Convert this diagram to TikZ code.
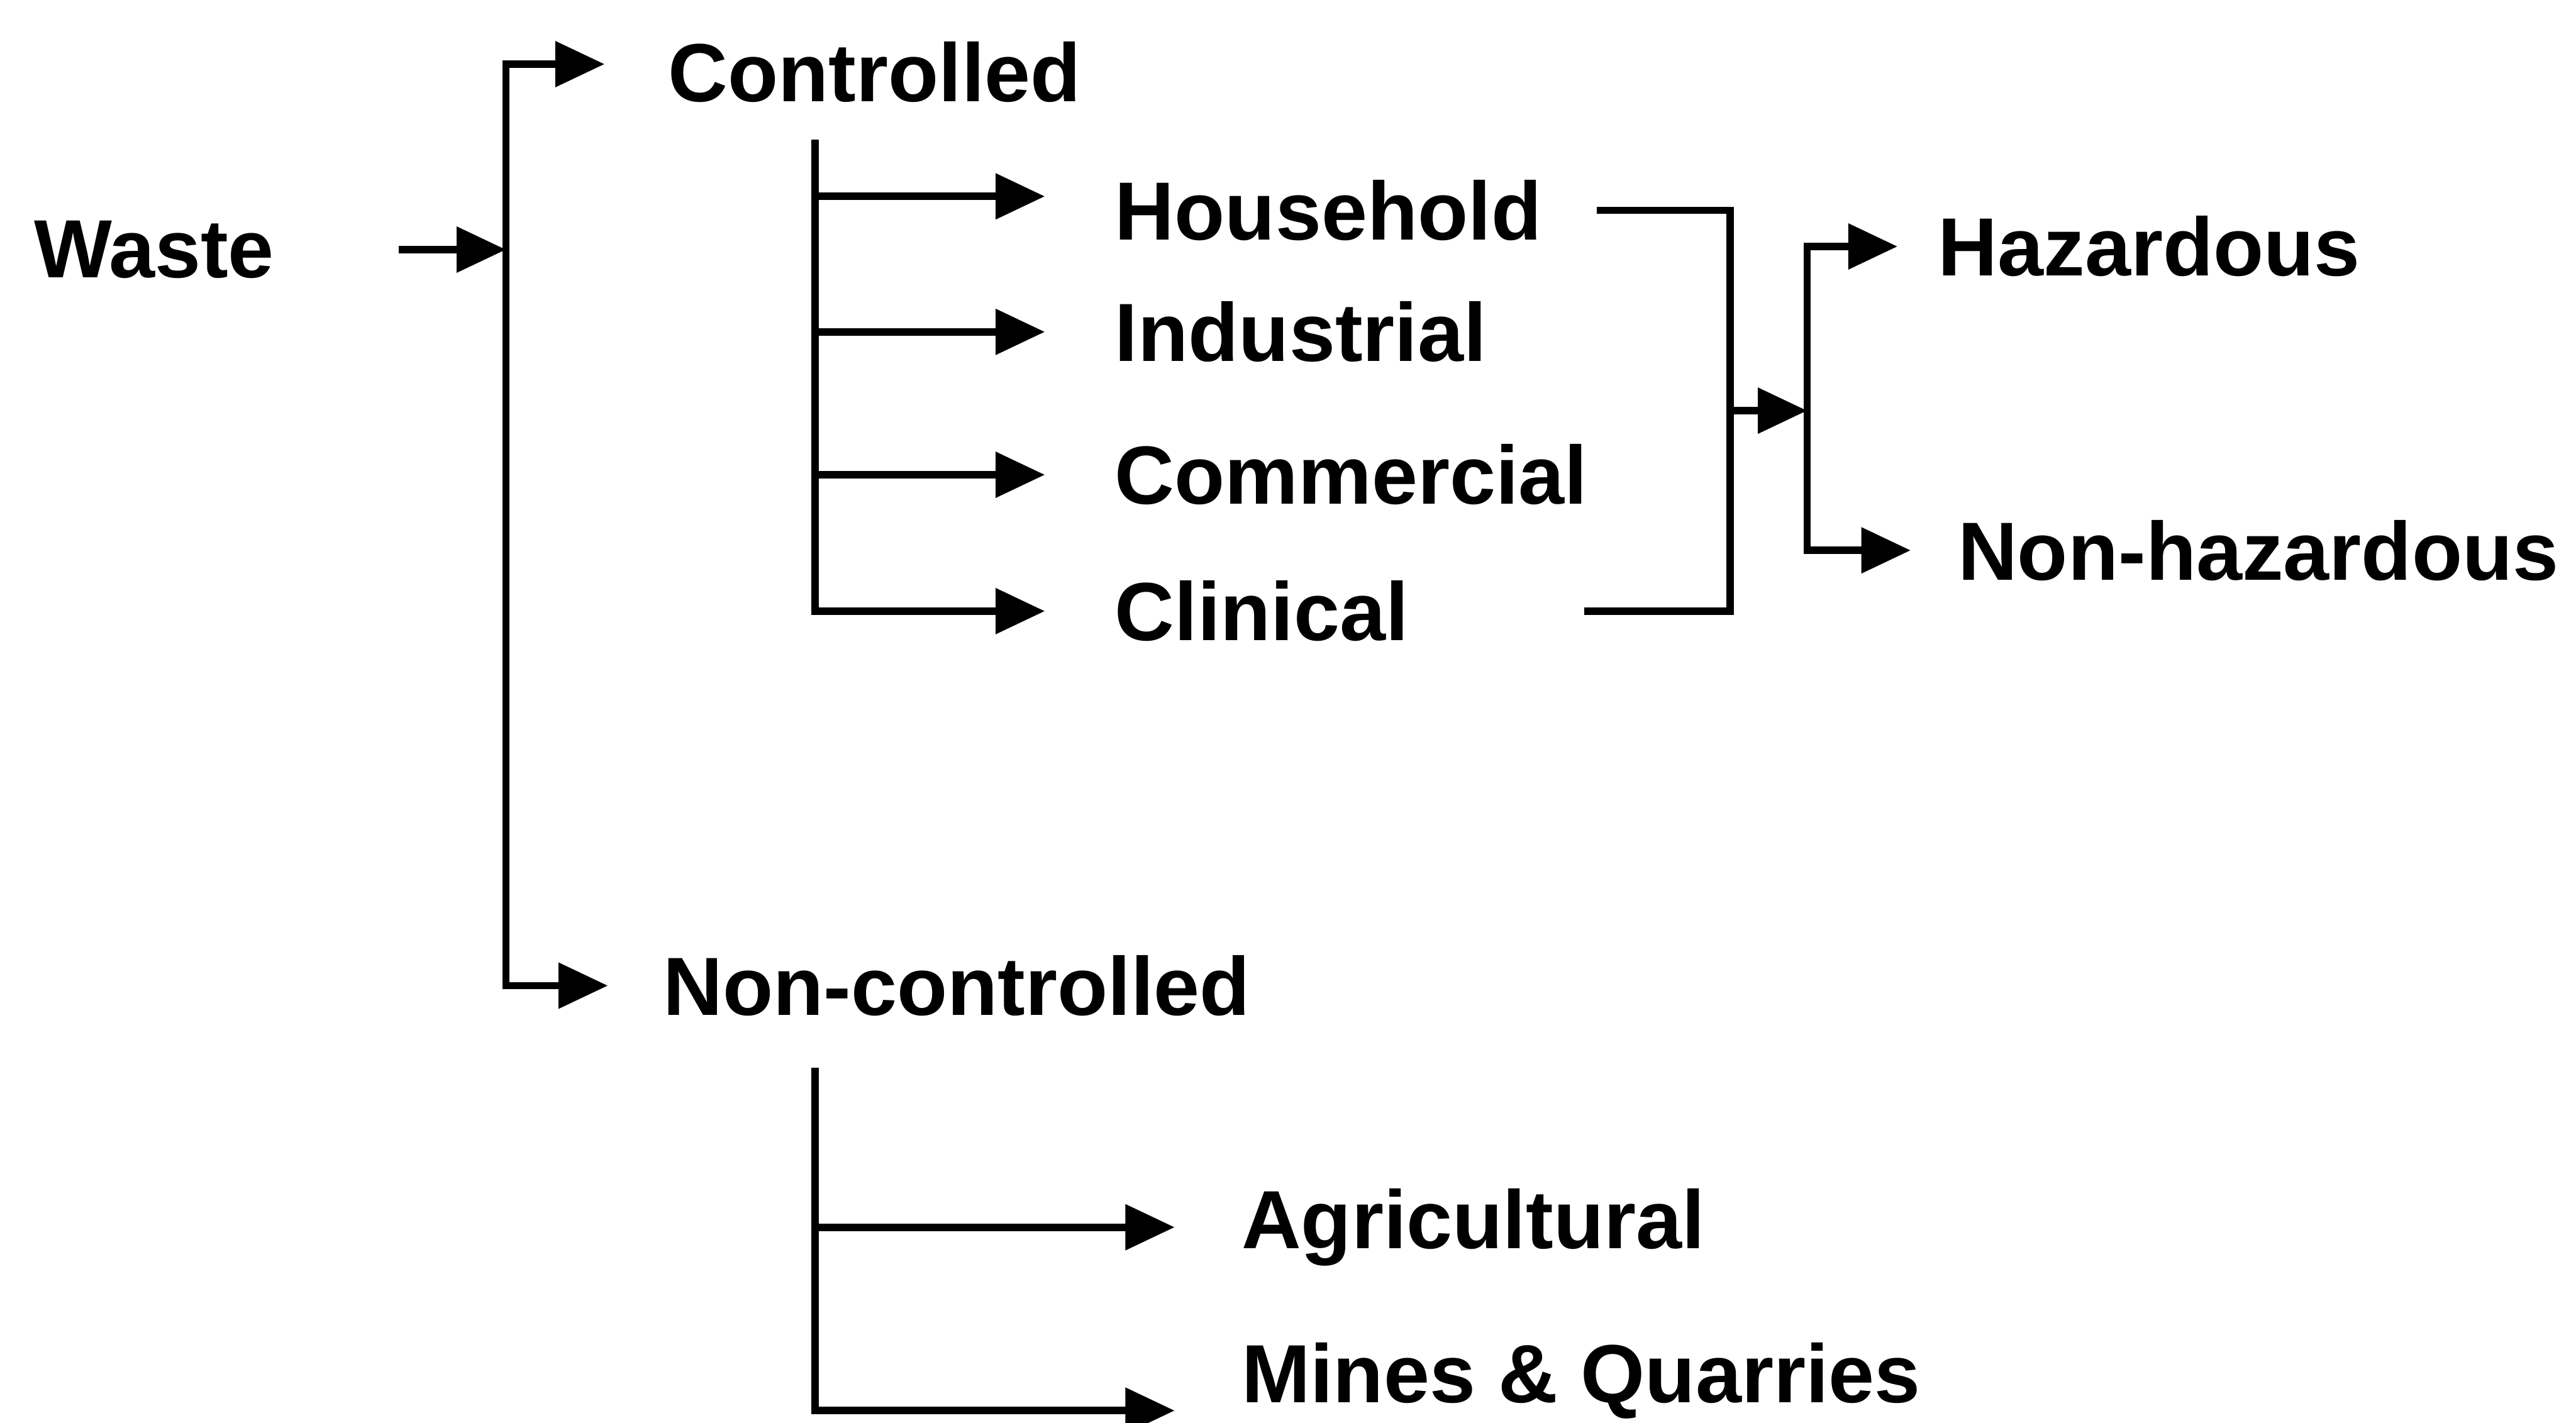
\documentclass[tikz,border=0pt]{standalone}
\usepackage{fontspec}
\setmainfont{Liberation Sans}
\usetikzlibrary{
  arrows.meta, calc,
}

\begin{document}
\begin{tikzpicture}[
    lbl/.style={
        anchor=base west, inner sep=0pt,
        font=\bfseries\fontsize{14.3}{17}\selectfont,
      },
    line/.style={
        black, line width=0.045cm,
      },
    arr/.style={
        line, -{Triangle[length=0.3cm, width=0.27cm]},
      },
    arrs/.style={
        line,
        {Triangle[length=0.3cm, width=0.27cm]}-{Triangle[length=0.3cm, width=0.27cm]},
      }
  ]
  \path[use as bounding box, fill=white] (0,0) rectangle (15.68,-8.66);

  \foreach \n/\x/\y/\t in {
      waste/0.20/-1.69/Waste,
      controlled/4.06/-0.62/Controlled,
      noncontrolled/4.03/-6.18/Non-controlled,
      household/6.78/-1.46/Household,
      industrial/6.78/-2.20/Industrial,
      commercial/6.78/-3.07/Commercial,
      clinical/6.78/-3.90/Clinical,
      hazardous/11.79/-1.68/Hazardous,
      nonhazardous/11.91/-3.53/Non-hazardous,
      agricultural/7.55/-7.60/Agricultural,
      mines/7.55/-8.54/Mines \& Quarries
    }{
      \node[lbl] (\n) at (\x,\y) {\t};
    }

  % junctions
  \coordinate (trunk) at (3.08,-1.55);
  \coordinate (csub) at (4.96,-0.85);
  \coordinate (nsub) at (4.96,-6.50);
  \coordinate (merge) at (10.53,-2.50);
  \coordinate (split) at (11.00,-2.50);

  \draw[arr, shorten <=0.75cm] (waste.east) -- (waste.east -| trunk);
  \draw[arrs, shorten <=0.38cm, shorten >=0.33cm]
    ([yshift=0.05cm]controlled.west) -| (trunk) |- (noncontrolled.west);

  % controlled
  \path ([yshift=0.085cm]household.west) coordinate (hhin);
  \draw[arr, shorten >=0.42cm] (csub) |- (clinical.west);
  \foreach \n in {hhin, industrial.west, commercial.west}
    \draw[arr, shorten >=0.42cm] (csub |- \n) -- (\n);

  \draw[line] ([xshift=0.33cm]household.east) -| (merge)
    |- ([xshift=1.06cm]clinical.east);
  \draw[arr] (merge) -- (split);
  \draw[arrs, shorten <=0.24cm, shorten >=0.28cm]
    (hazardous.west) -| (split) |- (nonhazardous.west);

  % non-controlled
  \path ([yshift=-0.18cm]mines.west) coordinate (mqin);
  \draw[arr, shorten >=0.40cm] (nsub) |- (mqin);
  \draw[arr, shorten >=0.40cm] (nsub |- agricultural.west) -- (agricultural.west);
\end{tikzpicture}
\end{document}
